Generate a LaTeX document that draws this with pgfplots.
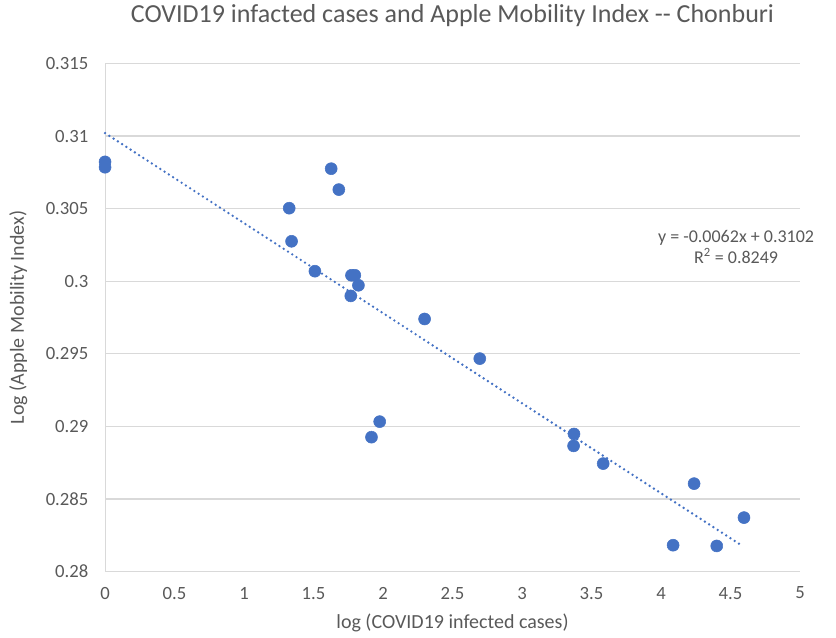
\documentclass[border=0pt]{standalone}
\usepackage{pgfplots}
\pgfplotsset{compat=1.18}
\usepackage{fontspec}
\setmainfont{Carlito}
\definecolor{dotblue}{HTML}{4472C4}
\definecolor{txtgray}{HTML}{595959}
\definecolor{gridgray}{HTML}{D9D9D9}
\begin{document}
\begin{tikzpicture}
\begin{axis}[
  scale only axis,
  width=521pt, height=381pt,
  xmin=0, xmax=5, ymin=0.28, ymax=0.315,
  xtick={0,0.5,...,5},
  ytick={0.28,0.285,0.29,0.295,0.3,0.305,0.31,0.315},
  yticklabels={0.28,0.285,0.29,0.295,0.3,0.305,0.31,0.315},
  xticklabels={0,0.5,1,1.5,2,2.5,3,3.5,4,4.5,5},
  axis line style={draw=none},
  ymajorgrids, major grid style={gridgray, line width=0.8pt},
  tick style={draw=none},
  ticklabel style={font=\fontsize{14}{16}\selectfont, text=txtgray},
  xticklabel style={yshift=-8pt},
  yticklabel style={xshift=-9pt},
  xlabel={log (COVID19 infected cases)},
  ylabel={Log (Apple Mobility Index)},
  label style={font=\fontsize{15}{17}\selectfont, text=txtgray},
  xlabel style={yshift=-4pt},
  ylabel style={yshift=7pt},
  title={COVID19 infacted cases and Apple Mobility Index -{}- Chonburi},
  title style={font=\fontsize{19.5}{22}\selectfont, text=txtgray, yshift=18pt},
  clip=false,
]
\draw[gridgray, line width=0.8pt] (axis cs:0,0.28) -- (axis cs:0,0.315);
\addplot[only marks, mark=*, mark size=4.5pt, color=dotblue] coordinates {
(0,0.30822) (0,0.30785) (1.627,0.30775) (1.682,0.30631) (1.325,0.30503)
(1.342,0.30275) (1.510,0.30069) (1.773,0.30041) (1.797,0.30041) (1.823,0.29972)
(1.768,0.29899) (2.299,0.29740) (2.696,0.29467) (1.976,0.29033) (1.917,0.28926)
(3.374,0.28948) (3.371,0.28866) (3.584,0.28744) (4.238,0.28606) (4.597,0.28372)
(4.087,0.28182) (4.401,0.28177)
};
\addplot[dotblue, line width=2pt, dash pattern=on 0pt off 3.8pt, line cap=round] coordinates {(0,0.3102) (4.58,0.281804)};
\node[align=center, text=txtgray, font=\fontsize{13.5}{15.5}\selectfont] at (axis cs:4.54,0.30235) {y = -0.0062x + 0.3102\\R\textsuperscript{2} = 0.8249};
\end{axis}
\path ([xshift=-78.75pt,yshift=-49.5pt]current axis.south west) rectangle ([xshift=27pt,yshift=46.5pt]current axis.north east);
\end{tikzpicture}
\end{document}
